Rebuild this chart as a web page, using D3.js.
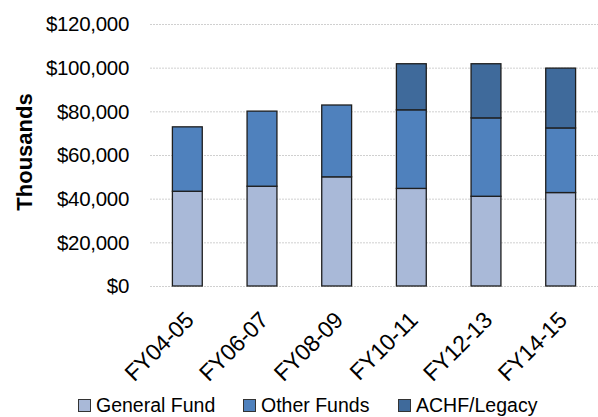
<!DOCTYPE html>
<html>
<head>
<meta charset="utf-8">
<script src="https://cdn.jsdelivr.net/npm/d3@7"></script>
<style>
    body { margin: 0; background: #fff; }
    text { font-family: "Liberation Sans", Arial, sans-serif; fill: #000; }
</style>
</head>
<body>
<div id="chart"></div>
<script>
// fiscal years
let years = ["FY04-05", "FY06-07", "FY08-09", "FY10-11", "FY12-13", "FY14-15"];

// series values, thousands of dollars
let generalFund = [43400, 45700, 50000, 44700, 41100, 42800];
let otherFunds = [29500, 34400, 32900, 36000, 35900, 29600];
let achfLegacy = [0, 0, 0, 21100, 24800, 27400];

let seriesNames = ["General Fund", "Other Funds", "ACHF/Legacy"];
let seriesColors = ["#A9B9D8", "#4F81BD", "#3F6A9B"];

let yTicks = [0, 20000, 40000, 60000, 80000, 100000, 120000];

let width = 598, height = 417;
let margin = {top: 24, right: 0, bottom: 131, left: 150};

let svg = d3.select("#chart").append("svg")
    .attr("width", width)
    .attr("height", height);

// rows for the stack
let rows = years.map((y, i) => ({
    year: y,
    "General Fund": generalFund[i],
    "Other Funds": otherFunds[i],
    "ACHF/Legacy": achfLegacy[i]
}));

let stacked = d3.stack().keys(seriesNames)(rows);

let x = d3.scaleBand()
    .domain(years)
    .range([margin.left, width - margin.right])
    .paddingInner(0.6)
    .paddingOuter(0.3);

let y = d3.scaleLinear()
    .domain([0, 120000])
    .range([height - margin.bottom, margin.top]);

// gridlines
svg.append("g")
    .selectAll("line")
    .data(yTicks)
    .enter()
    .append("line")
    .attr("x1", margin.left)
    .attr("x2", width)
    .attr("y1", d => y(d) + 0.5)
    .attr("y2", d => y(d) + 0.5)
    .attr("stroke", "#d0d0d0")
    .attr("stroke-width", 1)
    .attr("stroke-dasharray", "2,1");

// y tick labels
svg.append("g")
    .selectAll("text")
    .data(yTicks)
    .enter()
    .append("text")
    .attr("x", 129)
    .attr("y", d => y(d))
    .attr("dy", "0.36em")
    .attr("text-anchor", "end")
    .style("font-size", "20.5px")
    .style("letter-spacing", "-0.3px")
    .text(d => "$" + d3.format(",")(d));

// y axis title
svg.append("text")
    .attr("transform", "translate(32, 152) rotate(-90)")
    .attr("text-anchor", "middle")
    .style("font-size", "22px")
    .style("font-weight", "bold")
    .text("Thousands");

// bars
svg.append("g")
    .selectAll("g")
    .data(stacked)
    .enter()
    .append("g")
    .attr("fill", (d, i) => seriesColors[i])
    .selectAll("rect")
    .data(d => d.filter(p => p[1] > p[0]))
    .enter()
    .append("rect")
    .attr("x", d => x(d.data.year))
    .attr("y", d => y(d[1]))
    .attr("width", x.bandwidth())
    .attr("height", d => y(d[0]) - y(d[1]))
    .attr("stroke", "#1e1e1e")
    .attr("stroke-width", 1.3);

// x tick labels
svg.append("g")
    .selectAll("text")
    .data(years)
    .enter()
    .append("text")
    .attr("transform", d => `translate(${x(d) + x.bandwidth() / 2 - 4}, 310) rotate(-45)`)
    .attr("dy", "0.72em")
    .attr("text-anchor", "end")
    .style("font-size", "23px")
    .style("letter-spacing", "-0.3px")
    .text(d => d);

// legend
let legendX = [78, 243, 398];
let legend = svg.append("g")
    .selectAll("g")
    .data(seriesNames)
    .enter()
    .append("g")
    .attr("transform", (d, i) => `translate(${legendX[i]}, 399)`);

legend.append("rect")
    .attr("x", 0.5)
    .attr("y", 0.5)
    .attr("width", 12)
    .attr("height", 12)
    .attr("fill", (d, i) => seriesColors[i])
    .attr("stroke", "#333")
    .attr("stroke-width", 1);

legend.append("text")
    .attr("x", 18)
    .attr("y", 13)
    .style("font-size", "19.5px")
    .text(d => d);
</script>
</body>
</html>
